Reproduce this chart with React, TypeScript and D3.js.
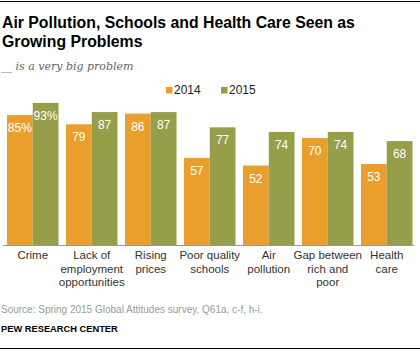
import React from "react";
import * as d3 from "d3";

const categories = [
  ["Crime"],
  ["Lack of", "employment", "opportunities"],
  ["Rising", "prices"],
  ["Poor quality", "schools"],
  ["Air", "pollution"],
  ["Gap between", "rich and", "poor"],
  ["Health", "care"],
];
const values2014 = [85, 79, 86, 57, 52, 70, 53];
const values2015 = [93, 87, 87, 77, 74, 74, 68];
const seriesNames = ["2014", "2015"];
const colors = ["#EA9F2D", "#969E4A"];

const W = 420;
const H = 351;
const font = "'Liberation Sans', Arial, sans-serif";

export default function App() {
  const keys = categories.map((c) => c.join(" "));
  const x = d3
    .scaleBand<string>()
    .domain(keys)
    .range([7, 412.5])
    .paddingInner(0.127)
    .paddingOuter(0);
  const xi = d3
    .scaleBand<string>()
    .domain(seriesNames)
    .range([0, x.bandwidth()]);
  const y = d3.scaleLinear().domain([0, 100]).range([245, 92.2]);
  const series = [values2014, values2015];

  return (
    <svg
      width={W}
      height={H}
      style={{ position: "absolute", left: 0, top: 0, background: "#fff" }}
    >
      <line x1={0} x2={W} y1={1.5} y2={1.5} stroke="#000" strokeWidth={1} />
      <text x={2} y={27.5} fontFamily={font} fontWeight="bold" fontSize={15.8} fill="#000">
        Air Pollution, Schools and Health Care Seen as
      </text>
      <text x={2} y={47} fontFamily={font} fontWeight="bold" fontSize={15.8} fill="#000">
        Growing Problems
      </text>
      <text
        x={1}
        y={70}
        fontFamily="'DejaVu Serif', Georgia, serif"
        fontStyle="italic"
        fontSize={11}
        fill="#666"
      >
        __ is a very big problem
      </text>

      {/* legend */}
      {seriesNames.map((s, i) => {
        const lx = i === 0 ? 166 : 221;
        return (
          <g key={s}>
            <rect x={lx} y={87} width={6.5} height={6.5} fill={colors[i]} />
            <text x={lx + 8} y={93.5} fontFamily={font} fontSize={12} fill="#222">
              {s}
            </text>
          </g>
        );
      })}

      {/* bars */}
      {keys.map((k, ci) =>
        seriesNames.map((s, si) => {
          const v = series[si][ci];
          const bx = (x(k) as number) + (xi(s) as number);
          const bw = xi.bandwidth();
          const label = ci === 0 ? `${v}%` : `${v}`;
          return (
            <g key={k + s}>
              <rect x={bx} y={y(v)} width={bw} height={y(0) - y(v)} fill={colors[si]} />
              <text
                x={bx + bw / 2}
                y={y(v) + 17}
                textAnchor="middle"
                fontFamily={font}
                fontSize={12}
                fill="#fff"
              >
                {label}
              </text>
            </g>
          );
        })
      )}
      <line x1={3} x2={414} y1={245.5} y2={245.5} stroke="#999" strokeWidth={1} />

      {/* category labels */}
      {categories.map((lines, ci) => {
        const cx = (x(keys[ci]) as number) + x.bandwidth() / 2;
        return (
          <text
            key={ci}
            textAnchor="middle"
            fontFamily={font}
            fontSize={11.5}
            fill="#333"
          >
            {lines.map((l, li) => (
              <tspan key={li} x={cx} y={259 + li * 13.7}>
                {l}
              </tspan>
            ))}
          </text>
        );
      })}

      <text x={1} y={313} fontFamily={font} fontSize={10} fill="#9a9a9a">
        Source: Spring 2015 Global Attitudes survey. Q61a, c-f, h-i.
      </text>
      <text x={1} y={332} fontFamily={font} fontWeight="bold" fontSize={9.3} fill="#000">
        PEW RESEARCH CENTER
      </text>
      <line x1={0} x2={W} y1={348.5} y2={348.5} stroke="#000" strokeWidth={1} />
    </svg>
  );
}
